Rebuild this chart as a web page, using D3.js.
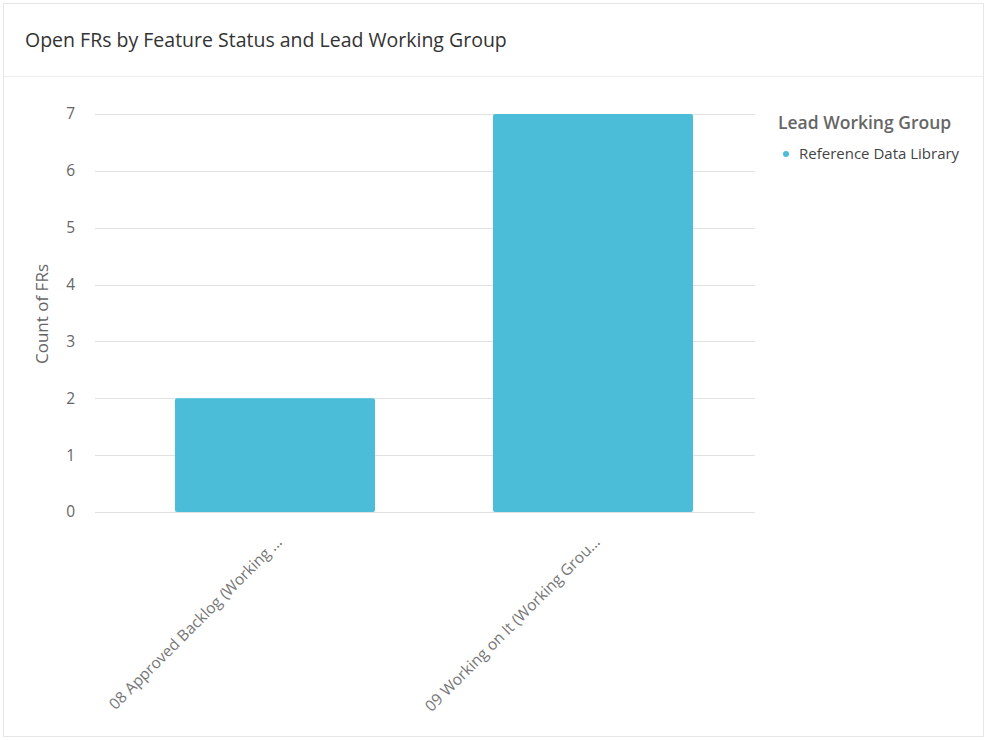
<!DOCTYPE html>
<html><head><meta charset="utf-8">
<script src="https://cdn.jsdelivr.net/npm/d3@7"></script>
<style>
html,body{margin:0;padding:0;background:#fff;}
svg{display:block;font-family:"Open Sans","Noto Sans",sans-serif;}
</style></head>
<body>
<svg id="c" width="987" height="740"></svg>
<script>
const title = "Open FRs by Feature Status and Lead Working Group";
const categories = ["08 Approved Backlog (Working ...", "09 Working on It (Working Grou..."];
const values = [2, 7];
const seriesName = "Reference Data Library";
const legendTitle = "Lead Working Group";
const yTicks = [0,1,2,3,4,5,6,7];
const yTitle = "Count of FRs";
const barColor = "#4bbdd9";

const svg = d3.select("#c");
// card
svg.append("rect").attr("x",3.5).attr("y",3.5).attr("width",980).attr("height",733)
  .attr("fill","#fff").attr("stroke","#e6e6e6");
svg.append("line").attr("x1",4).attr("x2",983).attr("y1",76.5).attr("y2",76.5).attr("stroke","#eeeeee");
svg.append("text").attr("x",25).attr("y",47).attr("font-size",19.5).attr("fill","#333").text(title);

const y = d3.scaleLinear().domain([0,7]).range([512,114]);
const x = d3.scaleBand().domain(categories).range([116,752]).paddingInner(0.371).paddingOuter(0.1855);

const g = svg.append("g");
// gridlines
g.selectAll("line.grid").data(yTicks).join("line")
  .attr("x1",95).attr("x2",755)
  .attr("y1",d=>Math.round(y(d))+0.5).attr("y2",d=>Math.round(y(d))+0.5)
  .attr("stroke","#e1e1e1").attr("stroke-width",1);
// y axis labels
const yAxis = d3.axisLeft(y).tickValues(yTicks).tickFormat(d3.format("d")).tickSize(0).tickPadding(0);
const ya = svg.append("g").attr("transform","translate(75,0)").call(yAxis);
ya.select(".domain").remove();
ya.selectAll("text").attr("font-size",15.5).attr("fill","#666").attr("font-family","Open Sans, Noto Sans, sans-serif");

svg.append("text").attr("transform","translate(48,314) rotate(-90)")
  .attr("text-anchor","middle").attr("font-size",17).attr("fill","#666").text(yTitle);

// bars
g.selectAll("rect.bar").data(categories).join("rect")
  .attr("x",d=>x(d)).attr("width",x.bandwidth())
  .attr("y",(d,i)=>y(values[i])).attr("height",(d,i)=>y(0)-y(values[i]))
  .attr("rx",2).attr("fill",barColor);

// x labels
const xa = svg.append("g").attr("transform","translate(0,512)")
  .call(d3.axisBottom(x).tickSize(0).tickPadding(0));
xa.select(".domain").remove();
xa.selectAll("text")
  .attr("font-size",15.5).attr("fill","#777").attr("font-family","Open Sans, Noto Sans, sans-serif")
  .attr("text-anchor","end").attr("dy",0).attr("y",0).attr("x",0)
  .attr("transform","translate(8,31) rotate(-45)");

// legend
svg.append("text").attr("x",778).attr("y",129).attr("font-size",17.5).attr("fill","#666").attr("font-weight",600).text(legendTitle);
svg.append("circle").attr("cx",786).attr("cy",154).attr("r",3).attr("fill",barColor);
svg.append("text").attr("x",799).attr("y",159).attr("font-size",15).attr("fill","#444").text(seriesName);
</script>
</body></html>
